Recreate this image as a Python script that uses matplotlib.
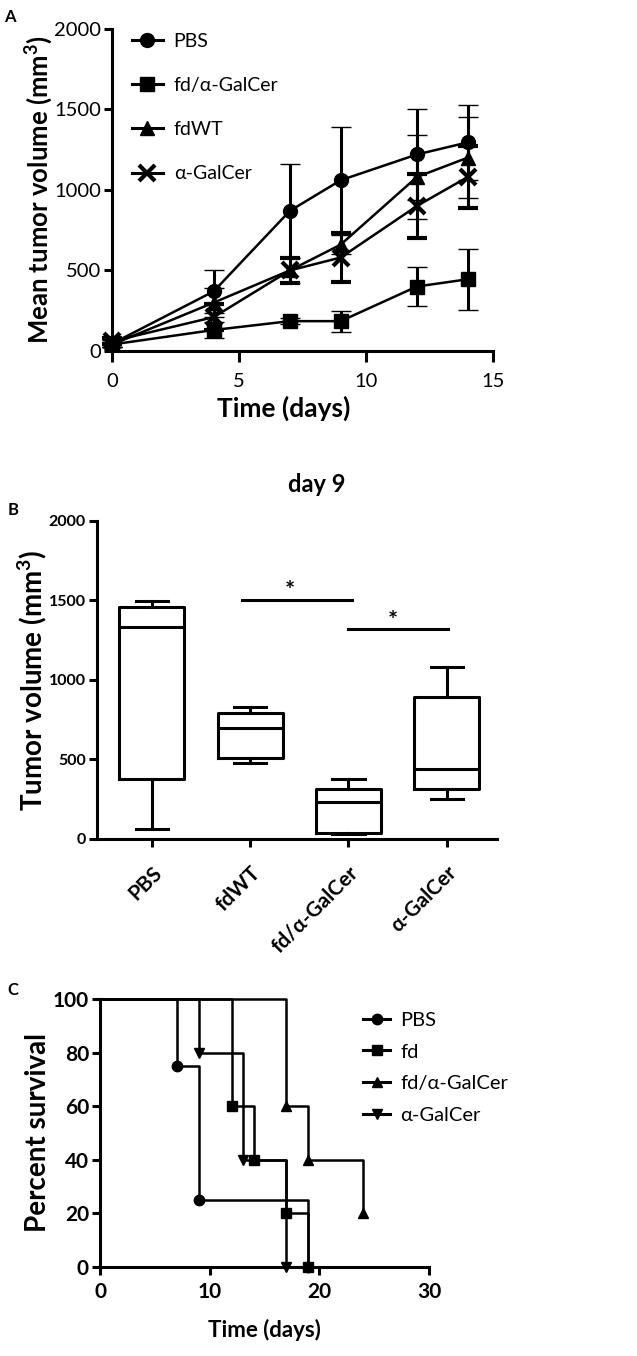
import numpy as np
import matplotlib.pyplot as plt
from matplotlib.lines import Line2D

plt.rcParams['font.family'] = ['Lato', 'DejaVu Sans']

# ----- panel A: mean tumor volume -----
days = [0, 4, 7, 9, 12, 14]
a_groups = ['PBS', 'fd/α-GalCer', 'fdWT', 'α-GalCer']
a_markers = ['o', 's', '^', 'x']
pbs_mean = [45, 370, 870, 1060, 1220, 1295]
pbs_err = [20, 135, 290, 330, 280, 235]
fdgal_mean = [40, 130, 185, 185, 400, 445]
fdgal_err = [15, 50, 20, 65, 120, 190]
fdwt_mean = [40, 300, 500, 660, 1080, 1200]
fdwt_err = [15, 90, 80, 60, 260, 250]
gal_mean = [60, 210, 500, 580, 900, 1080]
gal_err = [20, 80, 80, 150, 200, 190]
a_means = [pbs_mean, fdgal_mean, fdwt_mean, gal_mean]
a_errs = [pbs_err, fdgal_err, fdwt_err, gal_err]

# ----- panel B: day 9 boxes -----
b_groups = ['PBS', 'fdWT', 'fd/α-GalCer', 'α-GalCer']
b_min = [63, 479, 30, 249]
b_q1 = [377, 507, 36, 314]
b_med = [1329, 699, 230, 438]
b_q3 = [1459, 789, 312, 894]
b_max = [1497, 831, 377, 1078]

# ----- panel C: survival -----
c_groups = ['PBS', 'fd', 'fd/α-GalCer', 'α-GalCer']
c_markers = ['o', 's', '^', 'v']
pbs_t, pbs_s = [0, 7, 9, 19], [100, 75, 25, 0]
fd_t, fd_s = [0, 12, 14, 17, 19], [100, 60, 40, 20, 0]
fdgal_t, fdgal_s = [0, 17, 19, 24], [100, 60, 40, 20]
gal_t, gal_s = [0, 9, 13, 17], [100, 80, 40, 0]
c_times = [pbs_t, fd_t, fdgal_t, gal_t]
c_surv = [pbs_s, fd_s, fdgal_s, gal_s]

lw = 2.2

def style(ax, tick_size, bold=False, xpad=2):
    for s in ['top', 'right']:
        ax.spines[s].set_visible(False)
    for s in ['left', 'bottom']:
        ax.spines[s].set_linewidth(lw)
    ax.tick_params(width=lw, length=6, labelsize=tick_size, pad=2)
    ax.tick_params(axis='x', pad=xpad)
    if bold:
        for t in ax.get_xticklabels() + ax.get_yticklabels():
            t.set_fontweight('bold')

fig = plt.figure(figsize=(6.37, 13.56), dpi=100)

# panel A
ax = fig.add_axes([0.176, 0.7412, 0.598, 0.2375])
for name, m, mean, err in zip(a_groups, a_markers, a_means, a_errs):
    ax.errorbar(days, mean, yerr=err, color='black', marker=m, ms=10 if m != 'x' else 11,
                mew=3 if m == 'x' else 1, lw=1.8, elinewidth=lw, capsize=7, capthick=lw,
                clip_on=False)
ax.set_xlim(0, 15)
ax.set_ylim(0, 2000)
ax.set_xticks([0, 5, 10, 15])
ax.set_yticks([0, 500, 1000, 1500, 2000])
style(ax, 14.5, xpad=8)
ax.tick_params(axis='x', length=8)
ax.set_xlabel('Time (days)', fontsize=19, fontweight='bold', labelpad=4, x=0.45)
ax.set_ylabel('Mean tumor volume (mm$^\\mathregular{3}$)', fontsize=18.5, fontweight='bold', labelpad=-1)
handles = [Line2D([], [], color='black', lw=lw, marker=m, ms=10 if m != 'x' else 11,
                  mew=3 if m == 'x' else 1) for m in a_markers]
ax.legend(handles, a_groups, loc='upper left', bbox_to_anchor=(0.052, 0.988), frameon=False,
          fontsize=14, handlelength=1.6, labelspacing=1.4, handletextpad=0.55,
          borderpad=0, borderaxespad=0)
fig.text(0.006, 0.984, 'A', fontsize=12, fontweight='bold')

# panel B
ax = fig.add_axes([0.152, 0.3813, 0.628, 0.2347])
stats = [dict(med=md, q1=q1, q3=q3, whislo=lo, whishi=hi, label=g)
         for g, lo, q1, md, q3, hi in zip(b_groups, b_min, b_q1, b_med, b_q3, b_max)]
ax.bxp(stats, positions=range(len(b_groups)), widths=0.66, capwidths=0.33, showfliers=False,
       boxprops=dict(lw=lw, color='black'), medianprops=dict(lw=lw, color='black'),
       whiskerprops=dict(lw=lw, color='black'), capprops=dict(lw=lw, color='black'))
ax.set_xlim(-0.56, 3.51)
ax.set_ylim(0, 2000)
ax.set_yticks([0, 500, 1000, 1500, 2000])
style(ax, 11.5, bold=True)
ax.set_xticks(range(len(b_groups)))
ax.set_xticklabels(b_groups, rotation=45, ha='right', va='top', rotation_mode='anchor',
                   fontsize=15, fontweight='bold')
ax.tick_params(axis='x', pad=11)
ax.set_ylabel('Tumor volume (mm$^\\mathregular{3}$)', fontsize=20, fontweight='bold', labelpad=0)
ax.set_title('day 9', fontsize=17, fontweight='bold', pad=21, x=0.55)
ax.plot([0.92, 2.04], [1500, 1500], color='black', lw=lw)
ax.plot([2.0, 3.01], [1317, 1317], color='black', lw=lw)
ax.text(1.4, 1480, '*', ha='center', va='bottom', fontsize=17, fontweight='bold')
ax.text(2.45, 1297, '*', ha='center', va='bottom', fontsize=17, fontweight='bold')
fig.text(0.012, 0.62, 'B', fontsize=12, fontweight='bold')

# panel C
ax = fig.add_axes([0.157, 0.0659, 0.5165, 0.1974])
for name, m, t, s in zip(c_groups, c_markers, c_times, c_surv):
    ax.step(t, s, where='post', color='black', lw=1.8, clip_on=False)
    ax.plot(t[1:], s[1:], ls='none', marker=m, ms=7.5, color='black', clip_on=False)
    ax.plot([], [], color='black', lw=lw, marker=m, ms=7.5, label=name)
ax.set_xlim(0, 30)
ax.set_ylim(0, 100)
ax.set_xticks([0, 10, 20, 30])
ax.set_yticks([0, 20, 40, 60, 80, 100])
style(ax, 15, bold=True, xpad=5)
ax.set_xlabel('Time (days)', fontsize=16, fontweight='bold', labelpad=12)
ax.set_ylabel('Percent survival', fontsize=20, fontweight='bold', labelpad=1)
ax.legend(loc='upper left', bbox_to_anchor=(0.80, 0.952), frameon=False, fontsize=14.5,
          handlelength=1.35, labelspacing=0.72, handletextpad=0.5,
          borderpad=0, borderaxespad=0)
fig.text(0.012, 0.266, 'C', fontsize=12, fontweight='bold')

fig.savefig('out.png', dpi=100, facecolor='white')
